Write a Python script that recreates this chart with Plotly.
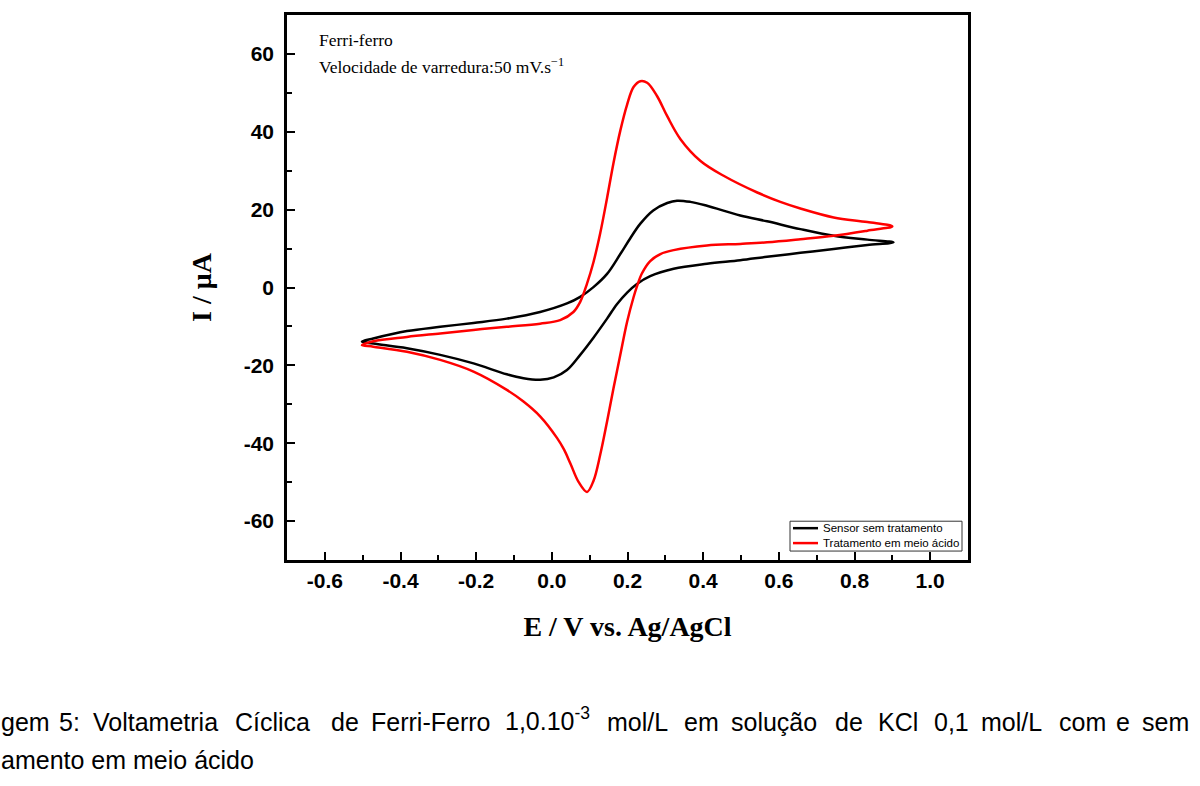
import plotly.graph_objects as go

# Sensor sem tratamento (black): potential (V) and current (uA), forward then reverse scan
E_black = [-0.502, -0.472, -0.383, -0.295, -0.207, -0.119, -0.031, 0.04, 0.075, 0.11, 0.146, 0.181,
           0.207, 0.234, 0.268, 0.305, 0.331, 0.366, 0.41, 0.498, 0.569, 0.657, 0.745, 0.834, 0.903,
           0.834, 0.745, 0.657, 0.569, 0.498, 0.41, 0.322, 0.26, 0.225, 0.199, 0.172, 0.146, 0.11,
           0.075, 0.04, 0.005, -0.031, -0.075, -0.119, -0.207, -0.295, -0.383, -0.472, -0.502]
I_black = [-13.9, -13.1, -11.2, -10.1, -9.1, -8.0, -6.3, -4.1, -2.4, 0.1, 3.5, 8.6,
           12.6, 16.4, 19.8, 21.7, 22.3, 22.0, 21.0, 18.5, 17.0, 15.0, 13.3, 12.3, 11.6,
           10.9, 9.9, 8.9, 7.9, 7.0, 6.1, 4.8, 2.9, 0.9, -1.3, -4.3, -8.0, -12.9,
           -17.3, -21.2, -23.1, -23.7, -23.3, -22.3, -19.5, -17.3, -15.6, -14.4, -13.9]

# Tratamento em meio acido (red)
E_red = [-0.502, -0.472, -0.383, -0.295, -0.207, -0.119, -0.031, 0.022, 0.057, 0.075, 0.093, 0.11,
         0.128, 0.146, 0.163, 0.181, 0.199, 0.216, 0.234, 0.252, 0.278, 0.305, 0.34, 0.393, 0.454,
         0.543, 0.604, 0.657, 0.745, 0.834, 0.90,
         0.834, 0.745, 0.657, 0.569, 0.498, 0.41, 0.322, 0.287, 0.26, 0.238, 0.225, 0.216, 0.199,
         0.181, 0.163, 0.146, 0.128, 0.11, 0.093, 0.071, 0.049, 0.032, 0.014, -0.031, -0.075, -0.119,
         -0.207, -0.295, -0.383, -0.472, -0.502]
I_red = [-14.8, -13.8, -12.7, -11.8, -10.9, -10.1, -9.3, -8.4, -6.3, -3.7, 1.0, 6.5,
         14.0, 23.0, 32.0, 40.3, 47.0, 51.5, 53.0, 52.6, 49.2, 44.0, 38.1, 32.5, 28.7,
         24.4, 22.0, 20.3, 18.0, 16.8, 15.7,
         14.6, 13.3, 12.4, 11.6, 11.2, 10.8, 9.6, 8.6, 6.8, 3.6, 0.3, -2.5, -8.8,
         -17.3, -25.9, -34.4, -42.9, -49.7, -52.5, -50.0, -45.2, -41.6, -38.7, -33.1, -29.3, -26.3,
         -21.6, -18.6, -16.5, -15.2, -14.8]

series_names = ["Sensor sem tratamento", "Tratamento em meio ácido"]
series_colors = ["black", "#ff0000"]

x_ticks = [-0.6, -0.4, -0.2, 0.0, 0.2, 0.4, 0.6, 0.8, 1.0]
x_tick_labels = ["-0.6", "-0.4", "-0.2", "0.0", "0.2", "0.4", "0.6", "0.8", "1.0"]
y_ticks = [-60, -40, -20, 0, 20, 40, 60]
y_tick_labels = ["-60", "-40", "-20", "0", "20", "40", "60"]

caption_words = ["gem", "5:", "Voltametria", "Cíclica", "de", "Ferri-Ferro", "1,0.10<sup>-3</sup>",
                 "mol/L", "em", "solução", "de", "KCl", "0,1", "mol/L", "com", "e", "sem"]
caption_word_x = [0, 58, 92, 234, 330, 370, 504, 606, 683, 730, 834, 877, 933, 980, 1058, 1115, 1141]
caption_line2 = "amento em meio ácido"

# plot area in pixels
L, R, T, B = 287, 968, 12, 560
PW, PH = R - L, B - T


def px(xp):
    return (xp - L) / PW


def py(yp):
    return (B - yp) / PH


fig = go.Figure()
fig.add_trace(go.Scatter(x=E_black, y=I_black, mode="lines", name=series_names[0],
                         line=dict(color=series_colors[0], width=2.5, shape="spline", smoothing=1.0)))
fig.add_trace(go.Scatter(x=E_red, y=I_red, mode="lines", name=series_names[1],
                         line=dict(color=series_colors[1], width=2.5, shape="spline", smoothing=1.0)))

tickfont = dict(family="Liberation Sans, Arial", size=21, color="black", weight="bold")
titlefont = dict(family="Liberation Serif, Times New Roman", size=28, color="black", weight="bold")

fig.update_xaxes(range=[-0.7, 1.1], tickvals=x_ticks, ticktext=x_tick_labels,
                 ticks="inside", ticklen=8, tickwidth=2, tickcolor="black",
                 minor=dict(ticks="inside", dtick=0.1, tick0=0, ticklen=5, tickwidth=2, tickcolor="black"),
                 showline=True, linewidth=2.5, linecolor="black", mirror=True,
                 showgrid=False, zeroline=False, tickfont=tickfont,
                 title=dict(text="E / V vs. Ag/AgCl", font=titlefont, standoff=26))
fig.update_yaxes(range=[-70, 70], tickvals=y_ticks, ticktext=y_tick_labels,
                 ticks="inside", ticklen=8, tickwidth=2, tickcolor="black",
                 minor=dict(ticks="inside", dtick=10, tick0=0, ticklen=5, tickwidth=2, tickcolor="black"),
                 showline=True, linewidth=2.5, linecolor="black", mirror=True,
                 showgrid=False, zeroline=False, tickfont=tickfont, ticklabelstandoff=6,
                 title=dict(text="I / μA", font=titlefont, standoff=24))

annotations = [
    dict(text="Ferri-ferro", xref="paper", yref="paper", x=px(317), y=py(37),
         xanchor="left", yanchor="middle", showarrow=False,
         font=dict(family="Liberation Serif, Times New Roman", size=17.5, color="black")),
    dict(text="Velocidade de varredura:50 mV.s<sup>−1</sup>", xref="paper", yref="paper", x=px(317), y=py(63),
         xanchor="left", yanchor="middle", showarrow=False,
         font=dict(family="Liberation Serif, Times New Roman", size=17.5, color="black")),
]
for w, xw in zip(caption_words, caption_word_x):
    annotations.append(dict(text=w, xref="paper", yref="paper", x=px(xw), y=py(723),
                            xanchor="left", yanchor="middle", showarrow=False, xshift=-1,
                            yshift=3 if "<sup>" in w else 0,
                            font=dict(family="Liberation Sans, Arial", size=25, color="black")))
annotations.append(dict(text=caption_line2, xref="paper", yref="paper", x=px(0), y=py(761),
                        xanchor="left", yanchor="middle", showarrow=False, xshift=-1,
                        font=dict(family="Liberation Sans, Arial", size=25, color="black")))

# legend (drawn inside plot, bottom-right)
shapes = [dict(type="rect", xref="paper", yref="paper", x0=px(790), x1=px(962), y0=py(551), y1=py(521),
               line=dict(color="#333", width=1), fillcolor="white", layer="above")]
leg_y = [528, 543]
for name, col, yy in zip(series_names, series_colors, leg_y):
    shapes.append(dict(type="line", xref="paper", yref="paper", x0=px(793), x1=px(818), y0=py(yy), y1=py(yy),
                       line=dict(color=col, width=2.5), layer="above"))
    annotations.append(dict(text=name, xref="paper", yref="paper", x=px(821), y=py(yy),
                            xanchor="left", yanchor="middle", showarrow=False,
                            font=dict(family="Liberation Sans, Arial", size=11.5, color="black")))

fig.update_layout(
    width=1200, height=786,
    margin=dict(l=L, r=1200 - R, t=T, b=786 - B),
    paper_bgcolor="white", plot_bgcolor="white",
    showlegend=False,
    annotations=annotations,
    shapes=shapes,
)

fig.write_html("out.html")
